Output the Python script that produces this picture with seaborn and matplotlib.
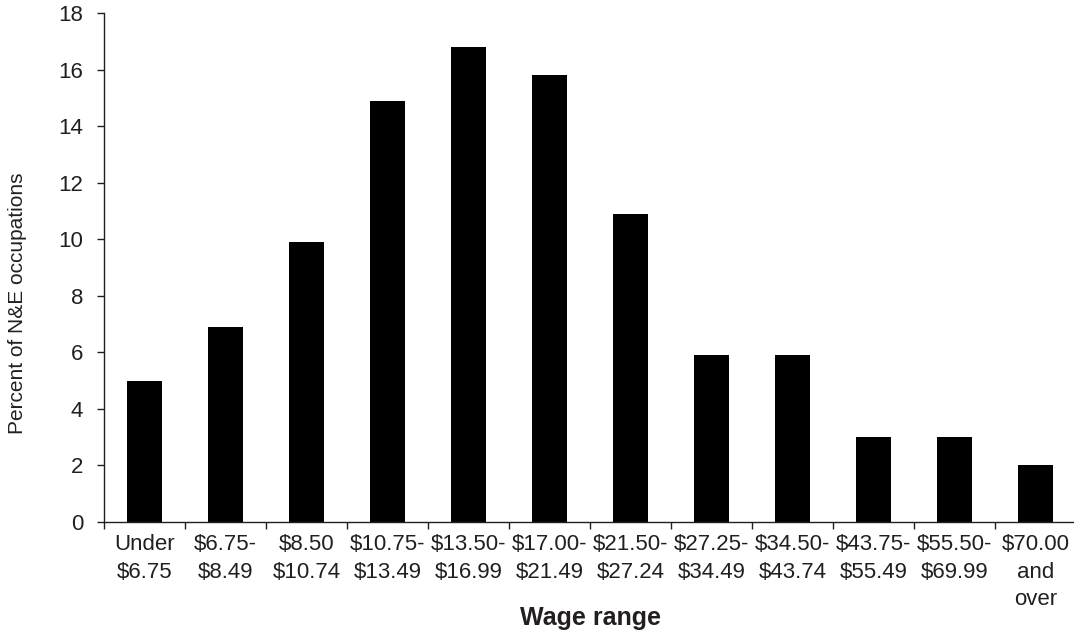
import matplotlib
matplotlib.use("Agg")
import matplotlib.pyplot as plt
import seaborn as sns
import pandas as pd
import numpy as np
from matplotlib.ticker import FixedLocator

categories = ["Under\n$6.75", "$6.75-\n$8.49", "$8.50\n$10.74", "$10.75-\n$13.49",
              "$13.50-\n$16.99", "$17.00-\n$21.49", "$21.50-\n$27.24", "$27.25-\n$34.49",
              "$34.50-\n$43.74", "$43.75-\n$55.49", "$55.50-\n$69.99", "$70.00\nand\nover"]
values = [5.0, 6.9, 9.9, 14.9, 16.8, 15.8, 10.9, 5.9, 5.9, 3.0, 3.0, 2.0]
y_ticks = [0, 2, 4, 6, 8, 10, 12, 14, 16, 18]

sns.set_style("white")
plt.rcParams['font.family'] = ['Liberation Sans', 'DejaVu Sans']

df = pd.DataFrame({"range": categories, "pct": values})

fig = plt.figure(figsize=(10.74, 6.37), dpi=100)
ax = fig.add_axes([104/1074, 1-522/637, (1076-104)/1074, (522-13.3)/637])

sns.barplot(data=df, x="range", y="pct", color="black", saturation=1,
            width=0.42, ax=ax, edgecolor="none")

txt = "#231f20"
ax.set_ylim(0, 18)
ax.set_xlim(-0.5, len(categories) - 0.5)
ax.set_yticks(y_ticks)
ax.set_yticklabels([str(t) for t in y_ticks], fontsize=16, color=txt)
ax.tick_params(axis="y", direction="out", length=5, width=1, pad=10, color=txt, left=True)
ax.tick_params(axis="x", which="major", length=0, pad=9, labelsize=16, labelcolor=txt)
ax.xaxis.set_minor_locator(FixedLocator(np.arange(-0.5, len(categories), 1.0)))
ax.tick_params(axis="x", which="minor", direction="out", length=5, width=1, color=txt, bottom=True)
for lab in ax.get_xticklabels():
    lab.set_multialignment("center")
    lab.set_linespacing(1.4)

for s in ["top", "right"]:
    ax.spines[s].set_visible(False)
for s in ["left", "bottom"]:
    ax.spines[s].set_color(txt)
    ax.spines[s].set_linewidth(1)

ax.set_xlabel("Wage range", fontsize=18, fontweight="bold", color=txt)
ax.xaxis.set_label_coords(0.5, -0.166)
ax.set_ylabel("Percent of N&E occupations", fontsize=15, color=txt)
ax.yaxis.set_label_coords(-0.079, 0.43)

fig.savefig("out.png", dpi=100)
